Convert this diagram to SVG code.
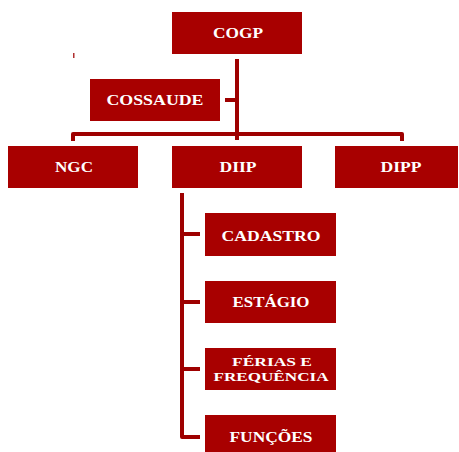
<svg xmlns="http://www.w3.org/2000/svg" width="459" height="452" viewBox="0 0 459 452">
<style>
.box{fill:#A80000}
.t{fill:#fff;font-family:"Liberation Serif","Times New Roman",serif;font-weight:bold;font-size:14px;text-anchor:middle}
.s{font-size:12px}
.c{stroke:#9E0000;stroke-width:4;fill:none;stroke-linejoin:round}
</style>
<rect width="459" height="452" fill="#fff"/>
<g id="connectors">
<path class="c" d="M237 59V140"/>
<path class="c" d="M225 100H237"/>
<path class="c" d="M73 141V134H402V141"/>
<path class="c" d="M182 193V437H200M182 234H200M182 302H200M182 369H200"/>
<rect x="73" y="53" width="1.5" height="5" fill="#B03030"/>
</g>
<g id="COGP"><rect class="box" x="172" y="12" width="130" height="42"/><text class="t" x="238" y="38" textLength="50" lengthAdjust="spacingAndGlyphs">COGP</text></g>
<g id="COSSAUDE"><rect class="box" x="90" y="79" width="130" height="42"/><text class="t" x="155" y="105" textLength="97" lengthAdjust="spacingAndGlyphs">COSSAUDE</text></g>
<g id="NGC"><rect class="box" x="8" y="146" width="130" height="42"/><text class="t" x="74" y="172" textLength="38" lengthAdjust="spacingAndGlyphs">NGC</text></g>
<g id="DIIP"><rect class="box" x="172" y="146" width="130" height="42"/><text class="t" x="238" y="172" textLength="37" lengthAdjust="spacingAndGlyphs">DIIP</text></g>
<g id="DIPP"><rect class="box" x="335" y="146" width="123" height="42"/><text class="t" x="401" y="172" textLength="41" lengthAdjust="spacingAndGlyphs">DIPP</text></g>
<g id="CADASTRO"><rect class="box" x="205" y="213" width="131" height="43"/><text class="t" x="271" y="241" textLength="99" lengthAdjust="spacingAndGlyphs">CADASTRO</text></g>
<g id="ESTAGIO"><rect class="box" x="205" y="281" width="131" height="42"/><text class="t" x="271" y="307" textLength="77" lengthAdjust="spacingAndGlyphs">ESTÁGIO</text></g>
<g id="FERIAS"><rect class="box" x="205" y="348" width="131" height="42"/><text class="t s" x="272" y="366" textLength="80" lengthAdjust="spacingAndGlyphs">FÉRIAS E</text><text class="t s" x="271" y="381" textLength="115" lengthAdjust="spacingAndGlyphs">FREQUÊNCIA</text></g>
<g id="FUNCOES"><rect class="box" x="205" y="415" width="131" height="37"/><text class="t" x="271" y="442" textLength="83" lengthAdjust="spacingAndGlyphs">FUNÇÕES</text></g>
</svg>
